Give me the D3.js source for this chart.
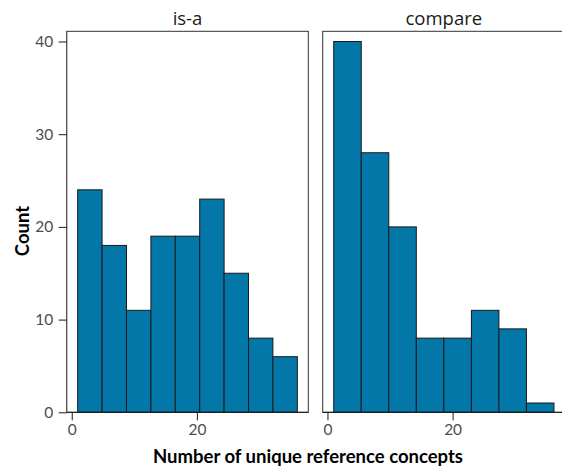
<!DOCTYPE html>
<html><head><meta charset="utf-8">
<script src="https://cdn.jsdelivr.net/npm/d3@7"></script>
<style>body{margin:0;background:#fff}svg{display:block}</style>
</head><body>
<svg id="c" width="562" height="466"></svg>
<script>
const facets = ["is-a", "compare"];
const isaCounts = [24, 18, 11, 19, 19, 23, 15, 8, 6];
const isaBinStart = 0.95, isaBinWidth = 3.9;
const compareCounts = [40, 28, 20, 8, 8, 11, 9, 1];
const compareBinStart = 1.0, compareBinWidth = 4.4;
const yTicks = [0, 10, 20, 30, 40];
const xTicks = [0, 20];

(function () {
const svg = d3.select("#c");
const fill = "#0277A8", stroke = "#1a1a1a";
const pTop = 31.3, pBottom = 412.3;
const y = d3.scaleLinear().domain([0, 41.1]).range([pBottom, pTop]);

const panels = [
  {name: facets[0], counts: isaCounts, start: isaBinStart, w: isaBinWidth, x0: 66.7, x1: 308.3, yaxis: true},
  {name: facets[1], counts: compareCounts, start: compareBinStart, w: compareBinWidth, x0: 322.7, x1: 565, yaxis: false}
];

panels.forEach(p => {
  const lo = p.start, hi = p.start + p.w * p.counts.length;
  const pad = (hi - lo) * 0.05;
  const x = d3.scaleLinear().domain([lo - pad, hi + pad]).range([p.x0, p.x1]);
  const g = svg.append("g");
  const bins = p.counts.map((c, i) => ({a: p.start + i * p.w, b: p.start + (i + 1) * p.w, c}));
  g.selectAll("rect.bar").data(bins).join("rect")
    .attr("x", d => x(d.a)).attr("width", d => x(d.b) - x(d.a))
    .attr("y", d => y(d.c)).attr("height", d => y(0) - y(d.c))
    .attr("fill", fill).attr("stroke", stroke).attr("stroke-width", 1);
  g.append("rect").attr("x", p.x0).attr("y", pTop).attr("width", p.x1 - p.x0).attr("height", pBottom - pTop)
    .attr("fill", "none").attr("stroke", "#333").attr("stroke-width", 1);
  const xa = g.append("g").attr("transform", `translate(0,${pBottom})`)
    .call(d3.axisBottom(x).tickValues(xTicks).tickSize(8).tickPadding(4).tickFormat(d3.format("d")));
  xa.attr("font-family", null).attr("font-size", null);
  xa.select(".domain").attr("stroke", "#1a1a1a").attr("d", `M${p.x0},0H${p.x1}`);
  xa.selectAll(".tick line").attr("stroke", "#1a1a1a");
  xa.selectAll("text").attr("fill", "#4d4d4d").style("font-family", "Lato").style("font-size", "15.5px");
  if (p.yaxis) {
    const ya = g.append("g").attr("transform", `translate(${p.x0},0)`)
      .call(d3.axisLeft(y).tickValues(yTicks).tickSize(8).tickPadding(5.5));
    ya.attr("font-family", null).attr("font-size", null);
    ya.select(".domain").attr("stroke", "#555").attr("d", `M0,${pBottom}V${pTop}`);
    ya.selectAll(".tick line").attr("stroke", "#1a1a1a");
    ya.selectAll("text").attr("fill", "#4d4d4d").style("font-family", "Lato").style("font-size", "15.5px");
  }
  g.append("text").attr("x", (p.x0 + p.x1) / 2).attr("y", 25).attr("text-anchor", "middle")
    .style("font-family", "Open Sans").style("font-size", "18.5px").attr("fill", "#1a1a1a").text(p.name);
});

svg.append("text").attr("x", 308).attr("y", 462.5).attr("text-anchor", "middle")
  .style("font-family", "Lato").style("font-weight", "bold").style("font-size", "18.5px")
  .text("Number of unique reference concepts");
svg.append("text").attr("transform", "translate(28.5,231) rotate(-90)").attr("text-anchor", "middle")
  .style("font-family", "Lato").style("font-weight", "bold").style("font-size", "18.5px")
  .text("Count");
})();
</script>
</body></html>
